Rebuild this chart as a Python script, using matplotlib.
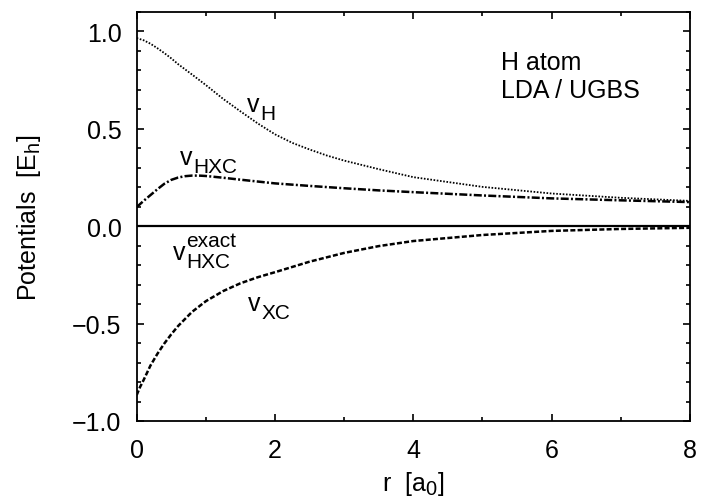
import numpy as np
import matplotlib
matplotlib.use('Agg')
import matplotlib.pyplot as plt
import matplotlib._mathtext as mt
from matplotlib.ticker import MultipleLocator
from matplotlib.transforms import offset_copy

# values
r_h = [0.0, 0.1, 0.2, 0.3, 0.4, 0.5, 0.6, 0.8, 1.0, 1.25, 1.5, 1.75, 2.0, 2.25, 2.5, 2.75, 3.0, 3.5, 4.0, 5.0, 6.0, 7.0, 8.0]
v_h = [0.966, 0.955, 0.937, 0.914, 0.889, 0.862, 0.832, 0.779, 0.725, 0.654, 0.59, 0.528, 0.472, 0.428, 0.394, 0.363, 0.337, 0.293, 0.252, 0.202, 0.168, 0.146, 0.130]

r_hxc = [0.0, 0.1, 0.2, 0.3, 0.4, 0.5, 0.6, 0.7, 0.8, 0.9, 1.0, 1.25, 1.5, 2.0, 2.5, 3.0, 3.5, 4.0, 5.0, 6.0, 7.0, 8.0]
v_hxc = [0.098, 0.13, 0.16, 0.19, 0.218, 0.238, 0.250, 0.257, 0.260, 0.260, 0.258, 0.249, 0.239, 0.220, 0.207, 0.195, 0.184, 0.175, 0.158, 0.143, 0.133, 0.124]

r_xc = [0.0, 0.05, 0.1, 0.2, 0.3, 0.4, 0.5, 0.6, 0.8, 1.0, 1.25, 1.5, 1.75, 2.0, 2.5, 3.0, 3.5, 4.0, 5.0, 6.0, 7.0, 8.0]
v_xc = [-0.867, -0.825, -0.79, -0.715, -0.655, -0.602, -0.555, -0.512, -0.44, -0.385, -0.333, -0.293, -0.262, -0.236, -0.182, -0.137, -0.102, -0.076, -0.045, -0.024, -0.014, -0.008]

r_exact = [0.0, 8.0]
v_exact = [0.0, 0.0]

plt.rcParams['font.family'] = ['Liberation Sans', 'DejaVu Sans']
plt.rcParams['mathtext.fontset'] = 'custom'
plt.rcParams['mathtext.rm'] = 'Liberation Sans'
plt.rcParams['mathtext.it'] = 'Liberation Sans'
mt.SHRINK_FACTOR = 0.8  # gnuplot-like subscripts

fig = plt.figure(figsize=(7.03, 5.02), dpi=100)
ax = fig.add_axes([0.1944, 0.1594, 0.7871, 0.8147])

ax.plot(r_exact, v_exact, color='black', lw=1.6)
ax.plot(r_h, v_h, color='black', lw=1.3, dashes=(0.9, 0.9))
ax.plot(r_hxc, v_hxc, color='black', lw=1.8, dashes=(3.2, 0.9, 0.8, 0.9))
ax.plot(r_xc, v_xc, color='black', lw=1.8, dashes=(2.0, 0.9))

ax.set_xlim(0, 8)
ax.set_ylim(-1.0, 1.1)
ax.xaxis.set_major_locator(MultipleLocator(2))
ax.xaxis.set_minor_locator(MultipleLocator(1))
ax.yaxis.set_minor_locator(MultipleLocator(0.1))
ax.set_yticks([-1.0, -0.5, 0.0, 0.5, 1.0])
ax.set_yticklabels(['\u22121.0', '\u22120.5', '0.0', '0.5', '1.0'])

ax.tick_params(which='both', direction='in', top=True, right=True, labelsize=18, width=1.2)
ax.tick_params(which='major', length=5, pad=11)
ax.tick_params(which='minor', length=2.8)
ax.tick_params(axis='x', which='major', pad=12)
for s in ax.spines.values():
    s.set_linewidth(1.3)

ax.set_xlabel(r'r  [$\mathrm{a_0}$]', fontsize=18, labelpad=5)
ax.set_ylabel(r'Potentials  [$\mathrm{E_h}$]', fontsize=18, labelpad=21)


def vlabel(x, y, sub, sup=None):
    ax.text(x, y, 'v', fontsize=18, va='baseline')
    t_sub = offset_copy(ax.transData, fig=fig, x=9.5, y=-5.8, units='points')
    ax.text(x, y, sub, fontsize=15, va='baseline', transform=t_sub)
    if sup:
        t_sup = offset_copy(ax.transData, fig=fig, x=9.5, y=9.4, units='points')
        ax.text(x, y, sup, fontsize=15, va='baseline', transform=t_sup)


vlabel(1.595, 0.593, 'H')
vlabel(0.627, 0.320, 'HXC')
vlabel(0.53, -0.166, 'HXC', 'exact')
vlabel(1.614, -0.431, 'XC')

ax.text(5.27, 0.807, 'H atom', fontsize=18, va='baseline')
ax.text(5.27, 0.664, 'LDA / UGBS', fontsize=18, va='baseline')

fig.savefig('out.png', dpi=100)
